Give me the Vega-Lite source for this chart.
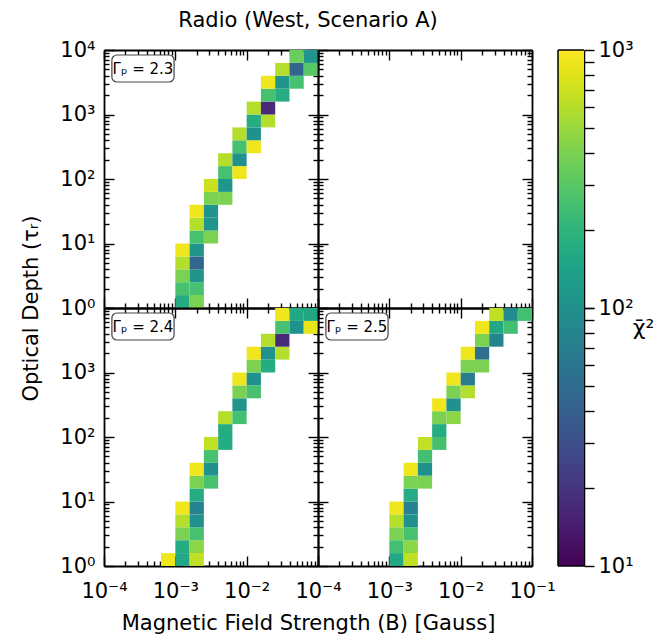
{
  "$schema": "https://vega.github.io/schema/vega-lite/v6.json",
  "padding": {"left": 20, "top": 10, "right": 5, "bottom": 5},
  "background": "white",
  "title": {"text": "Radio (West, Scenario A)", "frame": "group", "anchor": "middle", "offset": 8, "dx": 204, "fontSize": 21},
  "datasets": {
    "labels": [
      {"g": "2.3", "label": "Γₚ = 2.3"},
      {"g": "2.4", "label": "Γₚ = 2.4"},
      {"g": "2.5", "label": "Γₚ = 2.5"}
    ],
    "cbar": [{"lo": 10, "mid": 100, "hi": 1000}],
    "cells": [
      {"g":"2.3","b":0.001,"b2":0.001585,"t":1,"t2":1.585,"c":170},
      {"g":"2.3","b":0.001585,"b2":0.002512,"t":1,"t2":1.585,"c":400},
      {"g":"2.3","b":0.001,"b2":0.001585,"t":1.585,"t2":2.512,"c":260},
      {"g":"2.3","b":0.001585,"b2":0.002512,"t":1.585,"t2":2.512,"c":260},
      {"g":"2.3","b":0.001,"b2":0.001585,"t":2.512,"t2":3.981,"c":400},
      {"g":"2.3","b":0.001585,"b2":0.002512,"t":2.512,"t2":3.981,"c":110},
      {"g":"2.3","b":0.001,"b2":0.001585,"t":3.981,"t2":6.31,"c":600},
      {"g":"2.3","b":0.001585,"b2":0.002512,"t":3.981,"t2":6.31,"c":45},
      {"g":"2.3","b":0.001,"b2":0.001585,"t":6.31,"t2":10,"c":900},
      {"g":"2.3","b":0.001585,"b2":0.002512,"t":6.31,"t2":10,"c":110},
      {"g":"2.3","b":0.001585,"b2":0.002512,"t":10,"t2":15.85,"c":260},
      {"g":"2.3","b":0.002512,"b2":0.003981,"t":10,"t2":15.85,"c":400},
      {"g":"2.3","b":0.001585,"b2":0.002512,"t":15.85,"t2":25.12,"c":600},
      {"g":"2.3","b":0.002512,"b2":0.003981,"t":15.85,"t2":25.12,"c":110},
      {"g":"2.3","b":0.001585,"b2":0.002512,"t":25.12,"t2":39.81,"c":900},
      {"g":"2.3","b":0.002512,"b2":0.003981,"t":25.12,"t2":39.81,"c":110},
      {"g":"2.3","b":0.002512,"b2":0.003981,"t":39.81,"t2":63.1,"c":400},
      {"g":"2.3","b":0.003981,"b2":0.00631,"t":39.81,"t2":63.1,"c":400},
      {"g":"2.3","b":0.002512,"b2":0.003981,"t":63.1,"t2":100,"c":700},
      {"g":"2.3","b":0.003981,"b2":0.00631,"t":63.1,"t2":100,"c":110},
      {"g":"2.3","b":0.003981,"b2":0.00631,"t":100,"t2":158.5,"c":260},
      {"g":"2.3","b":0.00631,"b2":0.01,"t":100,"t2":158.5,"c":900},
      {"g":"2.3","b":0.003981,"b2":0.00631,"t":158.5,"t2":251.2,"c":600},
      {"g":"2.3","b":0.00631,"b2":0.01,"t":158.5,"t2":251.2,"c":100},
      {"g":"2.3","b":0.00631,"b2":0.01,"t":251.2,"t2":398.1,"c":260},
      {"g":"2.3","b":0.01,"b2":0.01585,"t":251.2,"t2":398.1,"c":900},
      {"g":"2.3","b":0.00631,"b2":0.01,"t":398.1,"t2":631,"c":600},
      {"g":"2.3","b":0.01,"b2":0.01585,"t":398.1,"t2":631,"c":100},
      {"g":"2.3","b":0.01,"b2":0.01585,"t":631,"t2":1000,"c":170},
      {"g":"2.3","b":0.01585,"b2":0.02512,"t":631,"t2":1000,"c":600},
      {"g":"2.3","b":0.01,"b2":0.01585,"t":1000,"t2":1585,"c":600},
      {"g":"2.3","b":0.01585,"b2":0.02512,"t":1000,"t2":1585,"c":17},
      {"g":"2.3","b":0.01585,"b2":0.02512,"t":1585,"t2":2512,"c":260},
      {"g":"2.3","b":0.02512,"b2":0.03981,"t":1585,"t2":2512,"c":170},
      {"g":"2.3","b":0.01585,"b2":0.02512,"t":2512,"t2":3981,"c":900},
      {"g":"2.3","b":0.02512,"b2":0.03981,"t":2512,"t2":3981,"c":110},
      {"g":"2.3","b":0.03981,"b2":0.0631,"t":2512,"t2":3981,"c":260},
      {"g":"2.3","b":0.02512,"b2":0.03981,"t":3981,"t2":6310,"c":600},
      {"g":"2.3","b":0.03981,"b2":0.0631,"t":3981,"t2":6310,"c":45},
      {"g":"2.3","b":0.0631,"b2":0.1,"t":3981,"t2":6310,"c":300},
      {"g":"2.3","b":0.03981,"b2":0.0631,"t":6310,"t2":10000,"c":350},
      {"g":"2.3","b":0.0631,"b2":0.1,"t":6310,"t2":10000,"c":110},

      {"g":"2.4","b":0.000631,"b2":0.001,"t":1,"t2":1.585,"c":900},
      {"g":"2.4","b":0.001,"b2":0.001585,"t":1,"t2":1.585,"c":160},
      {"g":"2.4","b":0.001585,"b2":0.002512,"t":1,"t2":1.585,"c":650},
      {"g":"2.4","b":0.001,"b2":0.001585,"t":1.585,"t2":2.512,"c":170},
      {"g":"2.4","b":0.001585,"b2":0.002512,"t":1.585,"t2":2.512,"c":450},
      {"g":"2.4","b":0.001,"b2":0.001585,"t":2.512,"t2":3.981,"c":400},
      {"g":"2.4","b":0.001585,"b2":0.002512,"t":2.512,"t2":3.981,"c":260},
      {"g":"2.4","b":0.001,"b2":0.001585,"t":3.981,"t2":6.31,"c":600},
      {"g":"2.4","b":0.001585,"b2":0.002512,"t":3.981,"t2":6.31,"c":100},
      {"g":"2.4","b":0.001,"b2":0.001585,"t":6.31,"t2":10,"c":900},
      {"g":"2.4","b":0.001585,"b2":0.002512,"t":6.31,"t2":10,"c":75},
      {"g":"2.4","b":0.001585,"b2":0.002512,"t":10,"t2":15.85,"c":170},
      {"g":"2.4","b":0.001585,"b2":0.002512,"t":15.85,"t2":25.12,"c":400},
      {"g":"2.4","b":0.002512,"b2":0.003981,"t":15.85,"t2":25.12,"c":260},
      {"g":"2.4","b":0.001585,"b2":0.002512,"t":25.12,"t2":39.81,"c":900},
      {"g":"2.4","b":0.002512,"b2":0.003981,"t":25.12,"t2":39.81,"c":100},
      {"g":"2.4","b":0.002512,"b2":0.003981,"t":39.81,"t2":63.1,"c":260},
      {"g":"2.4","b":0.002512,"b2":0.003981,"t":63.1,"t2":100,"c":650},
      {"g":"2.4","b":0.003981,"b2":0.00631,"t":63.1,"t2":100,"c":170},
      {"g":"2.4","b":0.003981,"b2":0.00631,"t":100,"t2":158.5,"c":170},
      {"g":"2.4","b":0.003981,"b2":0.00631,"t":158.5,"t2":251.2,"c":600},
      {"g":"2.4","b":0.00631,"b2":0.01,"t":158.5,"t2":251.2,"c":250},
      {"g":"2.4","b":0.00631,"b2":0.01,"t":251.2,"t2":398.1,"c":110},
      {"g":"2.4","b":0.00631,"b2":0.01,"t":398.1,"t2":631,"c":400},
      {"g":"2.4","b":0.01,"b2":0.01585,"t":398.1,"t2":631,"c":260},
      {"g":"2.4","b":0.00631,"b2":0.01,"t":631,"t2":1000,"c":900},
      {"g":"2.4","b":0.01,"b2":0.01585,"t":631,"t2":1000,"c":100},
      {"g":"2.4","b":0.01,"b2":0.01585,"t":1000,"t2":1585,"c":400},
      {"g":"2.4","b":0.01585,"b2":0.02512,"t":1000,"t2":1585,"c":170},
      {"g":"2.4","b":0.01,"b2":0.01585,"t":1585,"t2":2512,"c":900},
      {"g":"2.4","b":0.01585,"b2":0.02512,"t":1585,"t2":2512,"c":100},
      {"g":"2.4","b":0.02512,"b2":0.03981,"t":1585,"t2":2512,"c":600},
      {"g":"2.4","b":0.01585,"b2":0.02512,"t":2512,"t2":3981,"c":600},
      {"g":"2.4","b":0.02512,"b2":0.03981,"t":2512,"t2":3981,"c":17},
      {"g":"2.4","b":0.02512,"b2":0.03981,"t":3981,"t2":6310,"c":260},
      {"g":"2.4","b":0.03981,"b2":0.0631,"t":3981,"t2":6310,"c":100},
      {"g":"2.4","b":0.0631,"b2":0.1,"t":3981,"t2":6310,"c":850},
      {"g":"2.4","b":0.02512,"b2":0.03981,"t":6310,"t2":10000,"c":900},
      {"g":"2.4","b":0.03981,"b2":0.0631,"t":6310,"t2":10000,"c":160},
      {"g":"2.4","b":0.0631,"b2":0.1,"t":6310,"t2":10000,"c":150},

      {"g":"2.5","b":0.001,"b2":0.001585,"t":1,"t2":1.585,"c":160},
      {"g":"2.5","b":0.001585,"b2":0.002512,"t":1,"t2":1.585,"c":650},
      {"g":"2.5","b":0.001,"b2":0.001585,"t":1.585,"t2":2.512,"c":250},
      {"g":"2.5","b":0.001585,"b2":0.002512,"t":1.585,"t2":2.512,"c":450},
      {"g":"2.5","b":0.001,"b2":0.001585,"t":2.512,"t2":3.981,"c":400},
      {"g":"2.5","b":0.001585,"b2":0.002512,"t":2.512,"t2":3.981,"c":260},
      {"g":"2.5","b":0.001,"b2":0.001585,"t":3.981,"t2":6.31,"c":600},
      {"g":"2.5","b":0.001585,"b2":0.002512,"t":3.981,"t2":6.31,"c":100},
      {"g":"2.5","b":0.001,"b2":0.001585,"t":6.31,"t2":10,"c":900},
      {"g":"2.5","b":0.001585,"b2":0.002512,"t":6.31,"t2":10,"c":75},
      {"g":"2.5","b":0.001585,"b2":0.002512,"t":10,"t2":15.85,"c":170},
      {"g":"2.5","b":0.001585,"b2":0.002512,"t":15.85,"t2":25.12,"c":400},
      {"g":"2.5","b":0.002512,"b2":0.003981,"t":15.85,"t2":25.12,"c":400},
      {"g":"2.5","b":0.001585,"b2":0.002512,"t":25.12,"t2":39.81,"c":900},
      {"g":"2.5","b":0.002512,"b2":0.003981,"t":25.12,"t2":39.81,"c":100},
      {"g":"2.5","b":0.002512,"b2":0.003981,"t":39.81,"t2":63.1,"c":250},
      {"g":"2.5","b":0.002512,"b2":0.003981,"t":63.1,"t2":100,"c":650},
      {"g":"2.5","b":0.003981,"b2":0.00631,"t":63.1,"t2":100,"c":260},
      {"g":"2.5","b":0.003981,"b2":0.00631,"t":100,"t2":158.5,"c":170},
      {"g":"2.5","b":0.003981,"b2":0.00631,"t":158.5,"t2":251.2,"c":400},
      {"g":"2.5","b":0.00631,"b2":0.01,"t":158.5,"t2":251.2,"c":450},
      {"g":"2.5","b":0.003981,"b2":0.00631,"t":251.2,"t2":398.1,"c":900},
      {"g":"2.5","b":0.00631,"b2":0.01,"t":251.2,"t2":398.1,"c":100},
      {"g":"2.5","b":0.00631,"b2":0.01,"t":398.1,"t2":631,"c":400},
      {"g":"2.5","b":0.01,"b2":0.01585,"t":398.1,"t2":631,"c":600},
      {"g":"2.5","b":0.00631,"b2":0.01,"t":631,"t2":1000,"c":900},
      {"g":"2.5","b":0.01,"b2":0.01585,"t":631,"t2":1000,"c":70},
      {"g":"2.5","b":0.01,"b2":0.01585,"t":1000,"t2":1585,"c":400},
      {"g":"2.5","b":0.01585,"b2":0.02512,"t":1000,"t2":1585,"c":400},
      {"g":"2.5","b":0.01,"b2":0.01585,"t":1585,"t2":2512,"c":900},
      {"g":"2.5","b":0.01585,"b2":0.02512,"t":1585,"t2":2512,"c":55},
      {"g":"2.5","b":0.01585,"b2":0.02512,"t":2512,"t2":3981,"c":400},
      {"g":"2.5","b":0.02512,"b2":0.03981,"t":2512,"t2":3981,"c":80},
      {"g":"2.5","b":0.01585,"b2":0.02512,"t":3981,"t2":6310,"c":900},
      {"g":"2.5","b":0.02512,"b2":0.03981,"t":3981,"t2":6310,"c":160},
      {"g":"2.5","b":0.03981,"b2":0.0631,"t":3981,"t2":6310,"c":250},
      {"g":"2.5","b":0.02512,"b2":0.03981,"t":6310,"t2":10000,"c":650},
      {"g":"2.5","b":0.03981,"b2":0.0631,"t":6310,"t2":10000,"c":90},
      {"g":"2.5","b":0.0631,"b2":0.1,"t":6310,"t2":10000,"c":250}
    ]
  },
  "columns": 3,
  "spacing": 0,
  "bounds": "flush",
  "resolve": {"scale": {"x": "independent", "y": "independent"}},
  "concat": [
    {
      "width": 214, "height": 258,
      "resolve": {"axis": {"x": "independent", "y": "independent"}},
      "layer": [
        {
          "data": {"name": "cells"},
          "transform": [{"filter": "datum.g == '2.3'"}],
          "mark": {"type": "rect"},
          "encoding": {
            "x": {"field": "b", "type": "quantitative", "scale": {"type": "log", "domain": [0.0001, 0.1]},
              "axis": {"orient": "bottom", "values": [0.0001,0.0002,0.0003,0.0004,0.0005,0.0006,0.0007,0.0008,0.0009,0.001,0.002,0.003,0.004,0.005,0.006,0.007,0.008,0.009,0.01,0.02,0.03,0.04,0.05,0.06,0.07,0.08,0.09,0.1],
                "tickSize": {"condition": {"test": "abs(log(datum.value)/LN10 - round(log(datum.value)/LN10)) < 0.01", "value": -10}, "value": -5},
                "labels": false, "title": null}},
            "x2": {"field": "b2"},
            "y": {"field": "t", "type": "quantitative", "scale": {"type": "log", "domain": [1, 10000]},
              "axis": {"orient": "left", "values": [1,2,3,4,5,6,7,8,9,10,20,30,40,50,60,70,80,90,100,200,300,400,500,600,700,800,900,1000,2000,3000,4000,5000,6000,7000,8000,9000,10000],
                "tickSize": {"condition": {"test": "abs(log(datum.value)/LN10 - round(log(datum.value)/LN10)) < 0.01", "value": -10}, "value": -5},
                "labelExpr": "abs(log(datum.value)/LN10 - round(log(datum.value)/LN10)) > 0.01 ? '' : ['10⁰','10¹','10²','10³','10⁴'][round(log(datum.value)/LN10)]",
                "labelPadding": 19,
                "title": "Optical Depth (τᵣ)", "titleX": -63, "titleY": 258, "titleAlign": "center", "titleBaseline": "bottom", "titleAngle": -90}},
            "y2": {"field": "t2"},
            "color": {"field": "c", "type": "quantitative", "scale": {"type": "log", "domain": [10, 1000], "scheme": "viridis"}, "legend": null}
          }
        },
        {
          "data": {"name": "labels"},
          "transform": [{"filter": "datum.g == '2.3'"}],
          "mark": {"type": "rect", "fill": "white", "stroke": "#444444", "strokeWidth": 1.2, "cornerRadius": 5},
          "encoding": {
            "x": {"datum": 0.000129, "type": "quantitative",
              "axis": {"orient": "top", "values": [0.0001,0.0002,0.0003,0.0004,0.0005,0.0006,0.0007,0.0008,0.0009,0.001,0.002,0.003,0.004,0.005,0.006,0.007,0.008,0.009,0.01,0.02,0.03,0.04,0.05,0.06,0.07,0.08,0.09,0.1],
                "tickSize": {"condition": {"test": "abs(log(datum.value)/LN10 - round(log(datum.value)/LN10)) < 0.01", "value": -10}, "value": -5},
                "labels": false, "title": null}},
            "x2": {"datum": 0.00096},
            "y": {"datum": 8360, "type": "quantitative",
              "axis": {"orient": "right", "values": [1,2,3,4,5,6,7,8,9,10,20,30,40,50,60,70,80,90,100,200,300,400,500,600,700,800,900,1000,2000,3000,4000,5000,6000,7000,8000,9000,10000],
                "tickSize": {"condition": {"test": "abs(log(datum.value)/LN10 - round(log(datum.value)/LN10)) < 0.01", "value": -10}, "value": -5},
                "labels": false, "title": null}},
            "y2": {"datum": 3190}
          }
        },
        {
          "data": {"name": "labels"},
          "transform": [{"filter": "datum.g == '2.3'"}],
          "mark": {"type": "text", "fontSize": 15, "font": "DejaVu Sans", "align": "center", "baseline": "middle", "color": "black"},
          "encoding": {
            "x": {"datum": 0.000352, "type": "quantitative", "axis": null},
            "y": {"datum": 5070, "type": "quantitative", "axis": null},
            "text": {"field": "label"}
          }
        }
      ]
    },
    {
      "width": 214, "height": 258,
      "resolve": {"axis": {"x": "independent", "y": "independent"}},
      "layer": [
        {
          "data": {"values": []},
          "mark": {"type": "point"},
          "encoding": {
            "x": {"field": "b", "type": "quantitative", "scale": {"type": "log", "domain": [0.0001, 0.1]},
              "axis": {"orient": "bottom", "values": [0.0001,0.0002,0.0003,0.0004,0.0005,0.0006,0.0007,0.0008,0.0009,0.001,0.002,0.003,0.004,0.005,0.006,0.007,0.008,0.009,0.01,0.02,0.03,0.04,0.05,0.06,0.07,0.08,0.09,0.1],
                "tickSize": {"condition": {"test": "abs(log(datum.value)/LN10 - round(log(datum.value)/LN10)) < 0.01", "value": -10}, "value": -5},
                "labels": false, "title": null}},
            "y": {"field": "t", "type": "quantitative", "scale": {"type": "log", "domain": [1, 10000]},
              "axis": {"orient": "left", "values": [1,2,3,4,5,6,7,8,9,10,20,30,40,50,60,70,80,90,100,200,300,400,500,600,700,800,900,1000,2000,3000,4000,5000,6000,7000,8000,9000,10000],
                "tickSize": {"condition": {"test": "abs(log(datum.value)/LN10 - round(log(datum.value)/LN10)) < 0.01", "value": -10}, "value": -5},
                "labels": false, "title": null}}
          }
        },
        {
          "data": {"values": []},
          "mark": {"type": "point"},
          "encoding": {
            "x": {"field": "b", "type": "quantitative",
              "axis": {"orient": "top", "values": [0.0001,0.0002,0.0003,0.0004,0.0005,0.0006,0.0007,0.0008,0.0009,0.001,0.002,0.003,0.004,0.005,0.006,0.007,0.008,0.009,0.01,0.02,0.03,0.04,0.05,0.06,0.07,0.08,0.09,0.1],
                "tickSize": {"condition": {"test": "abs(log(datum.value)/LN10 - round(log(datum.value)/LN10)) < 0.01", "value": -10}, "value": -5},
                "labels": false, "title": null}},
            "y": {"field": "t", "type": "quantitative",
              "axis": {"orient": "right", "values": [1,2,3,4,5,6,7,8,9,10,20,30,40,50,60,70,80,90,100,200,300,400,500,600,700,800,900,1000,2000,3000,4000,5000,6000,7000,8000,9000,10000],
                "tickSize": {"condition": {"test": "abs(log(datum.value)/LN10 - round(log(datum.value)/LN10)) < 0.01", "value": -10}, "value": -5},
                "labels": false, "title": null}}
          }
        }
      ]
    },
    {
      "width": 52, "height": 258,
      "data": {"name": "cbar"},
      "layer": [
        {
          "mark": {"type": "rect",
            "fill": {"gradient": "linear", "x1": 0, "y1": 1, "x2": 0, "y2": 0,
              "stops": [
                {"offset": 0.0, "color": "#21918c"},
                {"offset": 0.1, "color": "#1e9c89"},
                {"offset": 0.2, "color": "#22a884"},
                {"offset": 0.3, "color": "#2fb47c"},
                {"offset": 0.4, "color": "#44bf70"},
                {"offset": 0.5, "color": "#5ec962"},
                {"offset": 0.6, "color": "#7ad151"},
                {"offset": 0.7, "color": "#9bd93c"},
                {"offset": 0.8, "color": "#bddf26"},
                {"offset": 0.9, "color": "#dfe318"},
                {"offset": 1.0, "color": "#fde725"}
              ]}},
          "encoding": {
            "x": {"datum": 1, "type": "quantitative", "scale": {"domain": [0, 2]}, "axis": null},
            "x2": {"datum": 2},
            "y": {"field": "mid", "type": "quantitative", "scale": {"type": "log", "domain": [100, 1000]},
              "axis": {"orient": "right", "values": [100,200,300,400,500,600,700,800,900,1000],
                "tickSize": 10,
                "labelExpr": "abs(log(datum.value)/LN10 - round(log(datum.value)/LN10)) > 0.01 ? '' : ['','','10²','10³'][round(log(datum.value)/LN10)]",
                "labelPadding": 4, "domainWidth": 1.5, "title": null}},
            "y2": {"field": "hi"}
          }
        },
        {
          "mark": {"type": "rule", "color": "black", "strokeWidth": 1.5},
          "encoding": {
            "x": {"datum": 1, "type": "quantitative"},
            "y": {"field": "mid", "type": "quantitative"},
            "y2": {"field": "hi"}
          }
        },
        {
          "mark": {"type": "rule", "color": "black", "strokeWidth": 1.5},
          "encoding": {
            "x": {"datum": 1, "type": "quantitative"},
            "x2": {"datum": 2},
            "y": {"field": "hi", "type": "quantitative"}
          }
        }
      ]
    },
    {
      "width": 214, "height": 258,
      "resolve": {"axis": {"x": "independent", "y": "independent"}},
      "layer": [
        {
          "data": {"name": "cells"},
          "transform": [{"filter": "datum.g == '2.4'"}],
          "mark": {"type": "rect"},
          "encoding": {
            "x": {"field": "b", "type": "quantitative", "scale": {"type": "log", "domain": [0.0001, 0.1]},
              "axis": {"orient": "bottom", "values": [0.0001,0.0002,0.0003,0.0004,0.0005,0.0006,0.0007,0.0008,0.0009,0.001,0.002,0.003,0.004,0.005,0.006,0.007,0.008,0.009,0.01,0.02,0.03,0.04,0.05,0.06,0.07,0.08,0.09,0.1],
                "tickSize": {"condition": {"test": "abs(log(datum.value)/LN10 - round(log(datum.value)/LN10)) < 0.01", "value": -10}, "value": -5},
                "labelExpr": "abs(log(datum.value)/LN10 - round(log(datum.value)/LN10)) > 0.01 ? '' : ['10⁻⁴','10⁻³','10⁻²',''][round(log(datum.value)/LN10) + 4]",
                "labelPadding": 24,
                "title": "Magnetic Field Strength (B) [Gauss]", "titleX": 204, "titleY": 46, "titleAlign": "center", "titleBaseline": "top", "titleFontSize": 21}},
            "x2": {"field": "b2"},
            "y": {"field": "t", "type": "quantitative", "scale": {"type": "log", "domain": [1, 10000]},
              "axis": {"orient": "left", "values": [1,2,3,4,5,6,7,8,9,10,20,30,40,50,60,70,80,90,100,200,300,400,500,600,700,800,900,1000,2000,3000,4000,5000,6000,7000,8000,9000,10000],
                "tickSize": {"condition": {"test": "abs(log(datum.value)/LN10 - round(log(datum.value)/LN10)) < 0.01", "value": -10}, "value": -5},
                "labelExpr": "abs(log(datum.value)/LN10 - round(log(datum.value)/LN10)) > 0.01 ? '' : ['10⁰','10¹','10²','10³',''][round(log(datum.value)/LN10)]",
                "labelPadding": 19, "title": null}},
            "y2": {"field": "t2"},
            "color": {"field": "c", "type": "quantitative", "scale": {"type": "log", "domain": [10, 1000], "scheme": "viridis"}, "legend": null}
          }
        },
        {
          "data": {"name": "labels"},
          "transform": [{"filter": "datum.g == '2.4'"}],
          "mark": {"type": "rect", "fill": "white", "stroke": "#444444", "strokeWidth": 1.2, "cornerRadius": 5},
          "encoding": {
            "x": {"datum": 0.000129, "type": "quantitative",
              "axis": {"orient": "top", "values": [0.0001,0.0002,0.0003,0.0004,0.0005,0.0006,0.0007,0.0008,0.0009,0.001,0.002,0.003,0.004,0.005,0.006,0.007,0.008,0.009,0.01,0.02,0.03,0.04,0.05,0.06,0.07,0.08,0.09,0.1],
                "tickSize": {"condition": {"test": "abs(log(datum.value)/LN10 - round(log(datum.value)/LN10)) < 0.01", "value": -10}, "value": -5},
                "labels": false, "title": null}},
            "x2": {"datum": 0.00096},
            "y": {"datum": 8360, "type": "quantitative",
              "axis": {"orient": "right", "values": [1,2,3,4,5,6,7,8,9,10,20,30,40,50,60,70,80,90,100,200,300,400,500,600,700,800,900,1000,2000,3000,4000,5000,6000,7000,8000,9000,10000],
                "tickSize": {"condition": {"test": "abs(log(datum.value)/LN10 - round(log(datum.value)/LN10)) < 0.01", "value": -10}, "value": -5},
                "labels": false, "title": null}},
            "y2": {"datum": 3190}
          }
        },
        {
          "data": {"name": "labels"},
          "transform": [{"filter": "datum.g == '2.4'"}],
          "mark": {"type": "text", "fontSize": 15, "font": "DejaVu Sans", "align": "center", "baseline": "middle", "color": "black"},
          "encoding": {
            "x": {"datum": 0.000352, "type": "quantitative", "axis": null},
            "y": {"datum": 5070, "type": "quantitative", "axis": null},
            "text": {"field": "label"}
          }
        }
      ]
    },
    {
      "width": 214, "height": 258,
      "resolve": {"axis": {"x": "independent", "y": "independent"}},
      "layer": [
        {
          "data": {"name": "cells"},
          "transform": [{"filter": "datum.g == '2.5'"}],
          "mark": {"type": "rect"},
          "encoding": {
            "x": {"field": "b", "type": "quantitative", "scale": {"type": "log", "domain": [0.0001, 0.1]},
              "axis": {"orient": "bottom", "values": [0.0001,0.0002,0.0003,0.0004,0.0005,0.0006,0.0007,0.0008,0.0009,0.001,0.002,0.003,0.004,0.005,0.006,0.007,0.008,0.009,0.01,0.02,0.03,0.04,0.05,0.06,0.07,0.08,0.09,0.1],
                "tickSize": {"condition": {"test": "abs(log(datum.value)/LN10 - round(log(datum.value)/LN10)) < 0.01", "value": -10}, "value": -5},
                "labelExpr": "abs(log(datum.value)/LN10 - round(log(datum.value)/LN10)) > 0.01 ? '' : ['10⁻⁴','10⁻³','10⁻²','10⁻¹'][round(log(datum.value)/LN10) + 4]",
                "labelPadding": 24, "title": null}},
            "x2": {"field": "b2"},
            "y": {"field": "t", "type": "quantitative", "scale": {"type": "log", "domain": [1, 10000]},
              "axis": {"orient": "left", "values": [1,2,3,4,5,6,7,8,9,10,20,30,40,50,60,70,80,90,100,200,300,400,500,600,700,800,900,1000,2000,3000,4000,5000,6000,7000,8000,9000,10000],
                "tickSize": {"condition": {"test": "abs(log(datum.value)/LN10 - round(log(datum.value)/LN10)) < 0.01", "value": -10}, "value": -5},
                "labels": false, "title": null}},
            "y2": {"field": "t2"},
            "color": {"field": "c", "type": "quantitative", "scale": {"type": "log", "domain": [10, 1000], "scheme": "viridis"}, "legend": null}
          }
        },
        {
          "data": {"name": "labels"},
          "transform": [{"filter": "datum.g == '2.5'"}],
          "mark": {"type": "rect", "fill": "white", "stroke": "#444444", "strokeWidth": 1.2, "cornerRadius": 5},
          "encoding": {
            "x": {"datum": 0.000129, "type": "quantitative",
              "axis": {"orient": "top", "values": [0.0001,0.0002,0.0003,0.0004,0.0005,0.0006,0.0007,0.0008,0.0009,0.001,0.002,0.003,0.004,0.005,0.006,0.007,0.008,0.009,0.01,0.02,0.03,0.04,0.05,0.06,0.07,0.08,0.09,0.1],
                "tickSize": {"condition": {"test": "abs(log(datum.value)/LN10 - round(log(datum.value)/LN10)) < 0.01", "value": -10}, "value": -5},
                "labels": false, "title": null}},
            "x2": {"datum": 0.00096},
            "y": {"datum": 8360, "type": "quantitative",
              "axis": {"orient": "right", "values": [1,2,3,4,5,6,7,8,9,10,20,30,40,50,60,70,80,90,100,200,300,400,500,600,700,800,900,1000,2000,3000,4000,5000,6000,7000,8000,9000,10000],
                "tickSize": {"condition": {"test": "abs(log(datum.value)/LN10 - round(log(datum.value)/LN10)) < 0.01", "value": -10}, "value": -5},
                "labels": false, "title": null}},
            "y2": {"datum": 3190}
          }
        },
        {
          "data": {"name": "labels"},
          "transform": [{"filter": "datum.g == '2.5'"}],
          "mark": {"type": "text", "fontSize": 15, "font": "DejaVu Sans", "align": "center", "baseline": "middle", "color": "black"},
          "encoding": {
            "x": {"datum": 0.000352, "type": "quantitative", "axis": null},
            "y": {"datum": 5070, "type": "quantitative", "axis": null},
            "text": {"field": "label"}
          }
        }
      ]
    },
    {
      "width": 52, "height": 258,
      "data": {"name": "cbar"},
      "layer": [
        {
          "mark": {"type": "rect",
            "fill": {"gradient": "linear", "x1": 0, "y1": 1, "x2": 0, "y2": 0,
              "stops": [
                {"offset": 0.0, "color": "#440154"},
                {"offset": 0.1, "color": "#471365"},
                {"offset": 0.2, "color": "#482475"},
                {"offset": 0.3, "color": "#463480"},
                {"offset": 0.4, "color": "#414487"},
                {"offset": 0.5, "color": "#3b528b"},
                {"offset": 0.6, "color": "#355f8d"},
                {"offset": 0.7, "color": "#2f6c8e"},
                {"offset": 0.8, "color": "#2a788e"},
                {"offset": 0.9, "color": "#25848e"},
                {"offset": 1.0, "color": "#21918c"}
              ]}},
          "encoding": {
            "x": {"datum": 1, "type": "quantitative", "scale": {"domain": [0, 2]}, "axis": null},
            "x2": {"datum": 2},
            "y": {"field": "lo", "type": "quantitative", "scale": {"type": "log", "domain": [10, 100]},
              "axis": {"orient": "right", "values": [10,20,30,40,50,60,70,80,90,100],
                "tickSize": 10,
                "labelExpr": "abs(datum.value - 10) < 0.01 ? '10¹' : ''",
                "labelPadding": 4, "domainWidth": 1.5,
                "title": "χ̄²", "titleAngle": 0, "titleX": 59, "titleY": 19, "titleAlign": "center", "titleBaseline": "middle", "titleFontSize": 22}},
            "y2": {"field": "mid"}
          }
        },
        {
          "mark": {"type": "rule", "color": "black", "strokeWidth": 1.5},
          "encoding": {
            "x": {"datum": 1, "type": "quantitative"},
            "y": {"field": "lo", "type": "quantitative"},
            "y2": {"field": "mid"}
          }
        },
        {
          "mark": {"type": "rule", "color": "black", "strokeWidth": 1.5},
          "encoding": {
            "x": {"datum": 1, "type": "quantitative"},
            "x2": {"datum": 2},
            "y": {"field": "lo", "type": "quantitative"}
          }
        }
      ]
    }
  ],
  "config": {
    "font": "DejaVu Sans",
    "view": {"stroke": null},
    "axis": {
      "domainColor": "black", "domainWidth": 1.8,
      "tickColor": "black", "tickWidth": 1.4,
      "labelColor": "black", "labelFont": "DejaVu Sans", "labelFontSize": 21,
      "titleFont": "DejaVu Sans", "titleFontSize": 21, "titleFontWeight": "normal", "titleColor": "black",
      "grid": false, "labelOverlap": false, "labelFlush": false, "labelBound": false
    },
    "title": {"font": "DejaVu Sans", "fontSize": 21, "fontWeight": "normal", "color": "black"}
  }
}
